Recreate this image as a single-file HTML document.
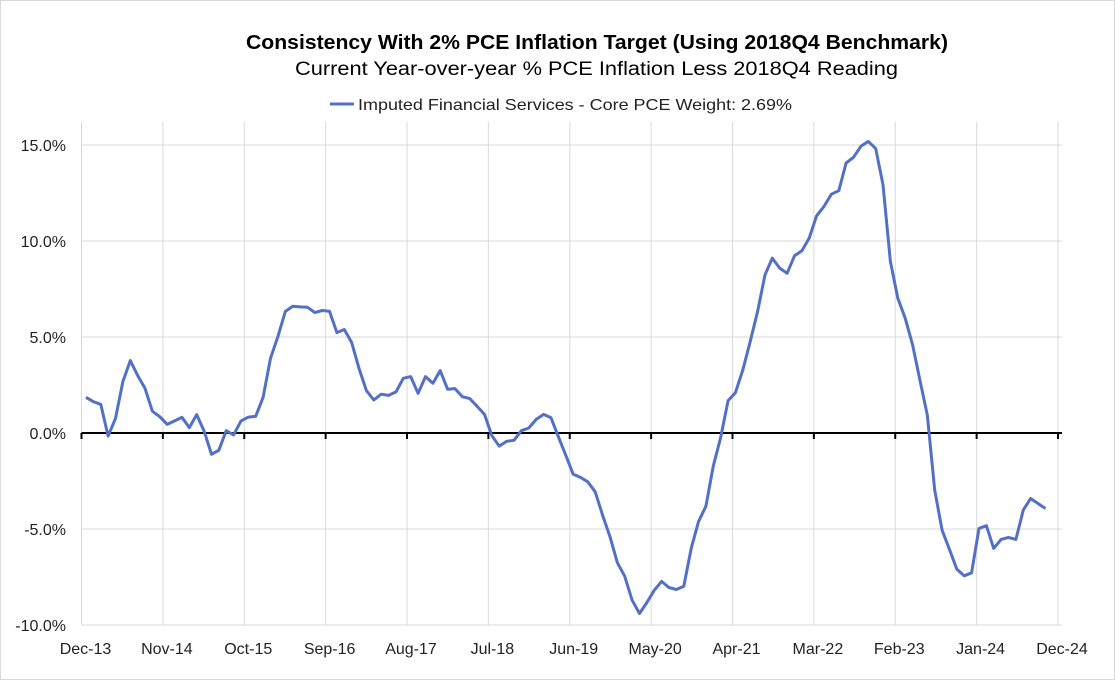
<!DOCTYPE html>
<html><head><meta charset="utf-8"><style>
html,body{margin:0;padding:0;background:#fff;}
svg{display:block;font-family:"Liberation Sans",sans-serif;}
</style></head><body>
<svg id="chart" width="1115" height="680" viewBox="0 0 1115 680">
<rect x="0.5" y="0.5" width="1114" height="679" fill="#fff" stroke="#d9d9d9"/>
<text x="246" y="49" font-size="20" font-weight="bold" fill="#000" textLength="702" lengthAdjust="spacingAndGlyphs">Consistency With 2% PCE Inflation Target (Using 2018Q4 Benchmark)</text>
<text x="295" y="75" font-size="19" fill="#000" textLength="603" lengthAdjust="spacingAndGlyphs">Current Year-over-year % PCE Inflation Less 2018Q4 Reading</text>
<g>
<line x1="330" y1="104" x2="354" y2="104" stroke="#5470C6" stroke-width="3"/>
<text x="358" y="110" font-size="16" fill="#222" textLength="434" lengthAdjust="spacingAndGlyphs">Imputed Financial Services - Core PCE Weight: 2.69%</text>
</g>
<g id="grid"></g><g id="axes"></g><g id="series"></g>
</svg>
<script>
const xLabels=["Dec-13","Nov-14","Oct-15","Sep-16","Aug-17","Jul-18","Jun-19","May-20","Apr-21","Mar-22","Feb-23","Jan-24","Dec-24"];
const yTicks=[15,10,5,0,-5,-10];
const values=[1.86,1.63,1.49,-0.16,0.76,2.68,3.77,2.99,2.33,1.13,0.85,0.45,0.63,0.82,0.28,0.96,0.10,-1.11,-0.90,0.12,-0.10,0.63,0.83,0.87,1.86,3.89,5.02,6.33,6.60,6.57,6.55,6.27,6.38,6.34,5.23,5.39,4.71,3.35,2.21,1.72,2.02,1.96,2.14,2.85,2.94,2.07,2.94,2.59,3.25,2.28,2.31,1.89,1.79,1.39,0.97,-0.14,-0.68,-0.43,-0.38,0.12,0.26,0.71,0.97,0.80,-0.19,-1.15,-2.14,-2.31,-2.54,-3.06,-4.28,-5.40,-6.76,-7.46,-8.71,-9.40,-8.83,-8.19,-7.73,-8.05,-8.15,-7.98,-6.01,-4.62,-3.81,-1.72,-0.23,1.69,2.10,3.28,4.76,6.33,8.24,9.11,8.59,8.32,9.23,9.49,10.15,11.31,11.80,12.44,12.62,14.06,14.36,14.93,15.19,14.81,12.93,8.93,7.02,5.98,4.59,2.76,0.94,-2.97,-5.06,-6.07,-7.09,-7.44,-7.28,-4.97,-4.83,-6.01,-5.54,-5.44,-5.54,-4.01,-3.41,-3.67,-3.93];
const NS="http://www.w3.org/2000/svg";
const pLeft=81.5,pRight=1062,pTop=122,pBottom=625;
function yS(v){return 433-v*19.2;}
function xm(m){return pLeft+m*(1058-pLeft)/132;}
function xD(k){return 86+k*7.38;}
function mk(t,a,p){const e=document.createElementNS(NS,t);for(const k in a)e.setAttribute(k,a[k]);p.appendChild(e);return e;}
const grid=document.getElementById('grid'),axes=document.getElementById('axes'),ser=document.getElementById('series');
yTicks.forEach(v=>{
  if(v!==0){const l=mk('line',{x1:pLeft,x2:pRight,y1:yS(v),y2:yS(v),stroke:'#d9d9d9','stroke-width':1},grid);
  
  }
  const t=mk('text',{x:66,y:yS(v)+6,'text-anchor':'end','font-size':16,fill:'#222'},axes);
  t.textContent=v.toFixed(1)+'%';
  
  
});
xLabels.forEach((s,j)=>{
  const X=xm(j*11);
  const g=mk('line',{x1:X,x2:X,y1:pTop,y2:pBottom,stroke:'#d9d9d9','stroke-width':1},grid);
  
  
  const tk=mk('line',{x1:X,x2:X,y1:433,y2:439,stroke:'#000','stroke-width':2},axes);
  
  
  const t=mk('text',{x:X+4,y:654,'text-anchor':'middle','font-size':16,fill:'#222'},axes);
  t.textContent=s;
  
  
});
const ax=mk('line',{x1:pLeft,x2:pRight,y1:433,y2:433,stroke:'#000','stroke-width':2},axes);


const pts=values.map((v,k)=>xD(k).toFixed(1)+','+yS(v).toFixed(1)).join(' ');
const pl=mk('polyline',{points:pts,fill:'none',stroke:'#5470C6','stroke-width':3,'stroke-linejoin':'round'},ser);


</script>
</body></html>
